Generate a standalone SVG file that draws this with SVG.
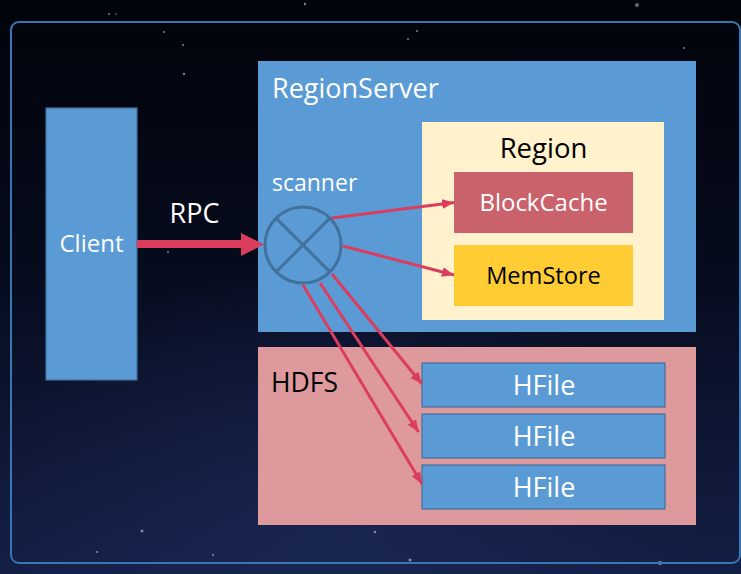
<svg xmlns="http://www.w3.org/2000/svg" width="741" height="574" viewBox="0 0 741 574">
  <defs>
    <linearGradient id="bg" x1="0" y1="0" x2="0" y2="1">
      <stop offset="0" stop-color="#02040b"/>
      <stop offset="0.45" stop-color="#060b1c"/>
      <stop offset="1" stop-color="#141f46"/>
    </linearGradient>
    <radialGradient id="glow" cx="0.45" cy="0.95" r="0.5">
      <stop offset="0" stop-color="#1e2c5c" stop-opacity="0.6"/>
      <stop offset="1" stop-color="#1e2c5c" stop-opacity="0"/>
    </radialGradient>
    <marker id="ah" viewBox="0 0 12 10" refX="12" refY="5" markerWidth="12" markerHeight="10" markerUnits="userSpaceOnUse" orient="auto">
      <path d="M0,0 L12,5 L0,10 Z" fill="#db3d5e"/>
    </marker>
    <style>
      text { font-family: "Open Sans", "Noto Sans", "DejaVu Sans", sans-serif; }
      .blue { fill: #5b9bd5; }
      .bbox { fill: #5b9bd5; stroke: #41719c; stroke-width: 1.2; }
      .w { fill: #ffffff; }
      .k { fill: #000000; }
      .c { text-anchor: middle; }
      .conn { stroke: #db3d5e; stroke-width: 3; fill: none; marker-end: url(#ah); }
      .star { fill: #c8d4f0; }
    </style>
  </defs>

  <!-- background -->
  <rect x="0" y="0" width="741" height="574" fill="url(#bg)"/>
  <rect x="0" y="0" width="741" height="574" fill="url(#glow)"/>
  <g opacity="0.6">
    <circle class="star" cx="305" cy="4" r="1.2"/>
    <circle class="star" cx="109" cy="14" r="1"/>
    <circle class="star" cx="116" cy="14" r="0.8"/>
    <circle class="star" cx="637" cy="5" r="2" opacity="0.8"/>
    <circle class="star" cx="164" cy="32" r="1"/>
    <circle class="star" cx="183" cy="45" r="1"/>
    <circle class="star" cx="184" cy="74" r="1.2"/>
    <circle class="star" cx="408" cy="39" r="1"/>
    <circle class="star" cx="417" cy="31" r="1"/>
    <circle class="star" cx="684" cy="48" r="1"/>
    <circle class="star" cx="142" cy="531" r="1.5"/>
    <circle class="star" cx="375" cy="532" r="1.3"/>
    <circle class="star" cx="410" cy="560" r="1.5"/>
    <circle class="star" cx="660" cy="563" r="2"/>
    <circle class="star" cx="97" cy="552" r="1"/>
    <circle class="star" cx="213" cy="555" r="1"/>
    <circle class="star" cx="168" cy="252" r="1"/>
  </g>

  <!-- outer frame -->
  <rect x="11" y="22" width="729" height="541" rx="8" ry="8" fill="none" stroke="#3a76b3" stroke-width="2"/>

  <g id="regionserver">
    <rect class="blue" x="258" y="61" width="438" height="271"/>
    <text class="w" x="272" y="98" font-size="27">RegionServer</text>
  </g>

  <g id="hdfs">
    <rect x="258" y="347" width="438" height="178" fill="#dd999c"/>
    <text class="k" x="271" y="392" font-size="26.5">HDFS</text>
  </g>

  <g id="client">
    <rect class="bbox" x="46" y="108" width="91" height="272"/>
    <text class="w c" x="91.5" y="252" font-size="24">Client</text>
  </g>

  <g id="region">
    <rect x="422" y="122" width="242" height="198" fill="#fff2cc"/>
    <text class="k c" x="543.5" y="158" font-size="27.5">Region</text>
  </g>

  <g id="blockcache">
    <rect x="454" y="172" width="179" height="61" fill="#c9626b"/>
    <text class="w c" x="543.5" y="211" font-size="24">BlockCache</text>
  </g>

  <g id="memstore">
    <rect x="454" y="245" width="179" height="61" fill="#ffcd33"/>
    <text class="k c" x="543.5" y="284" font-size="23.6">MemStore</text>
  </g>

  <g id="hfile1">
    <rect class="bbox" x="422" y="363" width="243" height="44"/>
    <text class="w c" x="544" y="395" font-size="27">HFile</text>
  </g>
  <g id="hfile2">
    <rect class="bbox" x="422" y="414" width="243" height="44"/>
    <text class="w c" x="544" y="446" font-size="27">HFile</text>
  </g>
  <g id="hfile3">
    <rect class="bbox" x="422" y="465" width="243" height="44"/>
    <text class="w c" x="544" y="497" font-size="27">HFile</text>
  </g>

  <g id="scanner">
    <circle cx="303" cy="245" r="38" fill="none" stroke="#41719c" stroke-width="3"/>
    <line x1="276.1" y1="218.1" x2="329.9" y2="271.9" stroke="#41719c" stroke-width="3"/>
    <line x1="329.9" y1="218.1" x2="276.1" y2="271.9" stroke="#41719c" stroke-width="3"/>
    <text class="w" x="272" y="191" font-size="23">scanner</text>
  </g>

  <g id="connectors">
    <line x1="137" y1="244" x2="243" y2="244" stroke="#db3d5e" stroke-width="8"/>
    <path d="M241,233 L264,244.5 L241,256 Z" fill="#db3d5e"/>
    <text class="w c" x="194.5" y="223" font-size="27">RPC</text>
    <line class="conn" x1="332" y1="218" x2="454" y2="202.5"/>
    <line class="conn" x1="343" y1="246" x2="454" y2="275"/>
    <line class="conn" x1="332" y1="274" x2="422" y2="384"/>
    <line class="conn" x1="320" y1="283" x2="418.5" y2="432"/>
    <line class="conn" x1="303" y1="285" x2="422" y2="484"/>
  </g>
</svg>
